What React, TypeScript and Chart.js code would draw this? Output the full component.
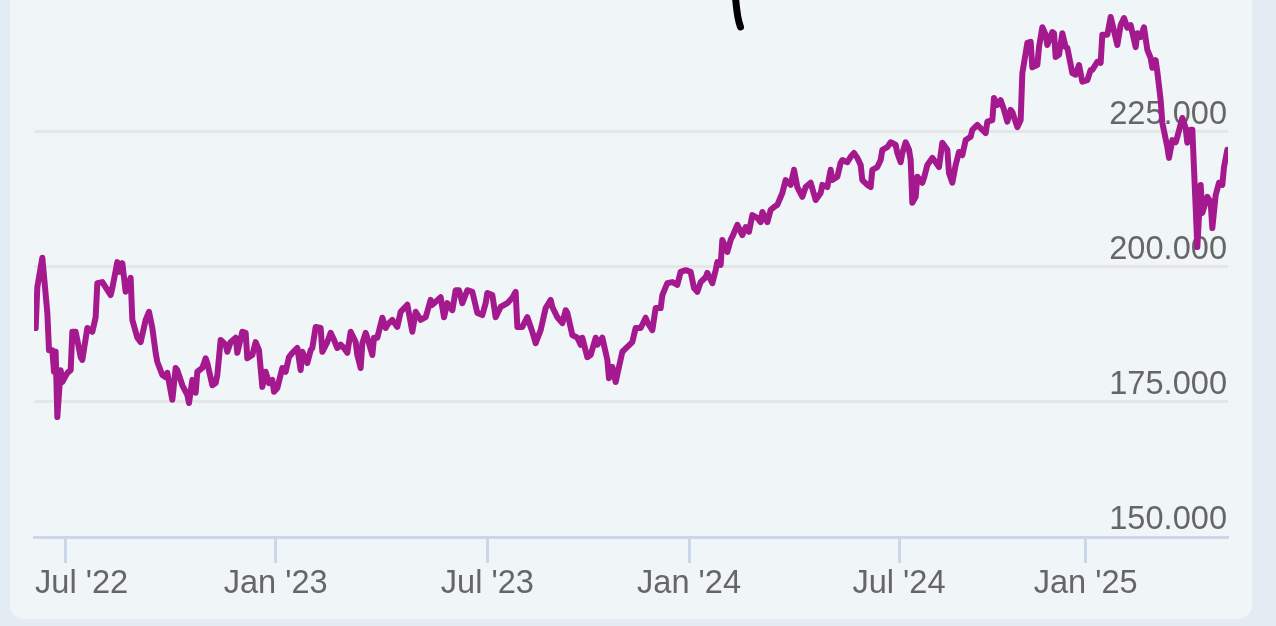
import React, { useEffect, useRef } from "react";
import { Chart, registerables } from "chart.js";

Chart.register(...registerables);

// trading-session index (ordinal x position) of each close
const sessionIndex = [
  1, 2, 5, 8, 9, 11, 12, 13, 14, 16,
  17, 20, 22, 23, 25, 28, 29, 32, 35, 37,
  38, 41, 46, 47, 50, 51, 53, 55, 58, 59,
  62, 64, 67, 69, 71, 73, 74, 77, 79, 80,
  83, 85, 86, 89, 92, 93, 95, 97, 98, 101,
  103, 104, 107, 109, 110, 112, 115, 116, 118, 121,
  122, 125, 127, 128, 131, 133, 135, 137, 139, 141,
  143, 144, 146, 149, 151, 153, 155, 158, 160, 161,
  164, 166, 167, 169, 172, 173, 176, 178, 180, 182,
  184, 186, 188, 190, 193, 194, 196, 197, 199, 200,
  203, 204, 206, 209, 211, 212, 215, 218, 220, 224,
  227, 229, 232, 235, 238, 239, 244, 246, 248, 251,
  253, 255, 257, 260, 263, 266, 269, 271, 272, 275,
  277, 280, 284, 287, 289, 290, 293, 296, 299, 301,
  304, 307, 310, 311, 314, 317, 319, 320, 323, 326,
  328, 329, 332, 334, 337, 338, 341, 344, 345, 347,
  349, 351, 353, 356, 359, 361, 364, 367, 368, 371,
  373, 376, 377, 380, 383, 386, 388, 391, 394, 396,
  398, 400, 403, 404, 407, 409, 410, 412, 413, 416,
  418, 419, 422, 425, 427, 429, 431, 434, 436, 437,
  440, 442, 444, 446, 449, 451, 454, 456, 458, 461,
  463, 466, 469, 472, 473, 476, 478, 479, 482, 484,
  485, 488, 490, 492, 494, 496, 497, 500, 502, 503,
  506, 508, 509, 512, 514, 517, 518, 520, 521, 523,
  525, 526, 527, 529, 530, 533, 534, 536, 539, 541,
  543, 545, 548, 549, 551, 553, 555, 557, 559, 562,
  563, 566, 569, 571, 572, 575, 576, 578, 580, 582,
  584, 586, 587, 590, 592, 593, 595, 596, 598, 599,
  602, 603, 605, 607, 608, 611, 612, 613, 615, 617,
  619, 620, 623, 625, 627, 629, 632, 634, 635, 638,
  640, 641, 644, 646, 649, 650, 652, 654, 656, 658,
  661, 662, 664, 666, 668, 670, 671, 673, 674, 676,
  677, 680, 681, 683, 685, 686, 689, 691, 692, 694,
  695, 697, 698, 700, 701, 704, 706, 707, 709, 711,
  713, 714, 716,
];

const closeValues = [
  188.7, 196.3, 201.7, 191.5, 184.6, 184.6, 180.6, 184.3, 172.2, 180.9,
  178.7, 180.4, 180.9, 188.0, 188.0, 183.3, 182.8, 188.7, 188.0, 190.7,
  197.0, 197.2, 194.8, 196.1, 200.9, 199.1, 200.7, 195.4, 198.0, 190.2,
  186.9, 186.1, 190.2, 191.7, 188.7, 184.1, 182.4, 180.0, 179.6, 180.4,
  175.4, 181.3, 180.9, 178.1, 176.3, 174.8, 179.1, 176.7, 180.6, 181.3,
  183.1, 182.2, 178.1, 178.5, 180.0, 186.5, 185.6, 184.3, 186.1, 186.9,
  184.1, 188.0, 187.8, 183.1, 183.7, 186.1, 184.6, 177.8, 180.6, 178.5,
  179.1, 176.9, 177.6, 181.3, 180.6, 183.3, 184.1, 185.0, 180.9, 184.3,
  182.2, 184.6, 185.0, 188.9, 188.7, 184.3, 186.1, 187.8, 186.5, 185.0,
  185.6, 185.0, 184.1, 188.0, 186.1, 183.7, 181.3, 185.9, 187.8, 186.9,
  183.7, 186.9, 186.9, 190.6, 188.7, 189.3, 190.2, 188.9, 191.7, 193.0,
  188.0, 191.7, 190.2, 190.7, 193.9, 193.0, 194.4, 190.7, 193.3, 192.0,
  195.7, 195.7, 193.3, 195.7, 195.4, 191.5, 191.1, 193.3, 195.2, 194.8,
  190.7, 192.6, 193.3, 194.3, 195.4, 188.9, 188.9, 190.7, 188.0, 185.9,
  188.3, 192.4, 193.9, 192.6, 190.7, 189.6, 192.0, 191.5, 187.4, 186.9,
  185.6, 186.9, 183.3, 183.7, 186.9, 185.6, 186.9, 182.8, 179.4, 181.5,
  178.7, 181.5, 184.3, 185.2, 186.1, 188.7, 188.7, 190.6, 189.8, 188.3,
  192.4, 192.4, 194.8, 197.0, 197.2, 196.7, 199.1, 199.4, 199.1, 196.1,
  195.4, 197.2, 198.1, 198.9, 197.0, 199.4, 200.9, 200.4, 205.0, 202.8,
  205.0, 205.6, 207.8, 205.9, 207.4, 206.5, 209.6, 209.1, 208.3, 210.2,
  208.3, 210.6, 211.1, 211.5, 213.7, 216.1, 215.2, 218.0, 214.8, 213.0,
  214.8, 215.6, 212.4, 213.7, 215.2, 214.8, 218.0, 216.1, 216.7, 219.3,
  219.8, 219.4, 220.4, 221.1, 220.2, 218.9, 216.1, 215.2, 214.8, 218.0,
  218.5, 219.8, 221.7, 222.2, 223.1, 222.6, 221.1, 219.4, 221.1, 223.1,
  221.7, 219.8, 211.9, 213.0, 216.7, 215.6, 216.5, 218.9, 220.2, 219.4,
  218.5, 223.0, 221.7, 217.4, 215.6, 218.9, 221.3, 220.7, 223.5, 224.1,
  225.4, 226.3, 225.4, 224.8, 226.9, 227.2, 231.3, 230.0, 230.9, 229.1,
  226.9, 229.1, 228.7, 225.9, 227.2, 235.9, 239.6, 241.5, 241.7, 237.0,
  237.4, 240.7, 244.4, 243.0, 241.1, 243.5, 243.3, 238.9, 239.3, 243.3,
  240.7, 240.6, 235.9, 235.6, 237.4, 234.3, 234.6, 236.5, 236.5, 238.0,
  237.8, 243.0, 243.0, 246.3, 242.4, 241.1, 244.8, 246.1, 244.3, 244.8,
  240.7, 243.3, 242.6, 244.4, 240.2, 238.7, 236.9, 238.3, 236.1, 230.9,
  226.7, 222.2, 220.2, 223.5, 223.1, 224.1, 227.6, 225.7, 223.0, 225.4,
  225.4, 211.1, 203.7, 215.2, 210.0, 213.0, 212.0, 207.2, 213.3, 215.6,
  215.2, 218.5, 221.7,
];

const xTickSessions = [19, 145, 272, 393, 519, 631];
const xTickLabels = ["Jul '22", "Jan '23", "Jul '23", "Jan '24", "Jul '24", "Jan '25"];
const yTickValues = [150, 175, 200, 225];
const yTickLabels = ["150.000", "175.000", "200.000", "225.000"];

const X_MIN = 0;
const X_MAX = 716.4;
const Y_MIN = 150;
const Y_MAX = 249.44;

const FONT_FAMILY = '"Liberation Sans", Arial, Helvetica, sans-serif';
const FONT_SIZE = 32.6;

export default function App() {
  const canvasRef = useRef<HTMLCanvasElement | null>(null);

  useEffect(() => {
    const canvas = canvasRef.current;
    if (!canvas) return;

    const xLabelPlugin = {
      id: "xLabelPlugin",
      afterDraw(chart: any) {
        const { ctx, chartArea, scales } = chart;
        const xs = scales.x;
        ctx.save();
        ctx.font = `${FONT_SIZE}px ${FONT_FAMILY}`;
        ctx.fillStyle = "#666666";
        ctx.textBaseline = "alphabetic";
        ctx.textAlign = "left";
        xTickSessions.forEach((s, i) => {
          const px = xs.getPixelForValue(s);
          const label = xTickLabels[i];
          const w = ctx.measureText(label).width;
          let left = px - w / 2;
          if (left < chartArea.left + 1) left = chartArea.left + 1;
          if (left + w > chartArea.right) left = chartArea.right - w;
          ctx.fillText(label, left, chartArea.bottom + 56);
        });
        ctx.restore();
      },
    };

    const chart = new Chart(canvas, {
      type: "line",
      data: {
        datasets: [
          {
            data: sessionIndex.map((x, i) => ({ x, y: closeValues[i] })),
            borderColor: "#a5198f",
            borderWidth: 6,
            pointRadius: 0,
            tension: 0,
            fill: false,
            borderJoinStyle: "round",
            borderCapStyle: "round",
          },
        ],
      },
      options: {
        animation: false,
        responsive: false,
        events: [],
        layout: { padding: { left: 34, top: 0, right: 0, bottom: 0 } },
        plugins: {
          legend: { display: false },
          tooltip: { enabled: false },
          title: { display: false },
        },
        scales: {
          x: {
            type: "linear",
            min: X_MIN,
            max: X_MAX,
            afterBuildTicks: (scale: any) => {
              scale.ticks = xTickSessions.map((v) => ({ value: v }));
            },
            afterFit: (scale: any) => {
              scale.height = 89;
              scale.paddingLeft = 0;
              scale.paddingRight = 0;
            },
            ticks: { display: false },
            grid: {
              drawOnChartArea: false,
              drawTicks: true,
              tickLength: 26,
              tickWidth: 3,
              tickColor: "#ccd6eb",
            },
            border: { display: true, color: "#ccd6eb", width: 3 },
          },
          y: {
            type: "linear",
            position: "right",
            min: Y_MIN,
            max: Y_MAX,
            afterBuildTicks: (scale: any) => {
              scale.ticks = yTickValues.map((v) => ({ value: v }));
            },
            afterFit: (scale: any) => {
              scale.width = 48;
              scale.paddingTop = 0;
              scale.paddingBottom = 0;
            },
            ticks: {
              mirror: true,
              padding: -1,
              labelOffset: -17,
              color: "#666666",
              font: { size: FONT_SIZE, family: FONT_FAMILY },
              callback: (value: any) => {
                const idx = yTickValues.indexOf(Number(value));
                return idx >= 0 ? yTickLabels[idx] : "";
              },
            },
            grid: {
              color: (ctx: any) =>
                ctx.tick && ctx.tick.value === Y_MIN ? "rgba(0,0,0,0)" : "#e6e6e6",
              lineWidth: 3,
              drawTicks: false,
            },
            border: { display: false },
          },
        },
      },
      plugins: [xLabelPlugin],
    } as any);

    return () => {
      chart.destroy();
    };
  }, []);

  return (
    <div
      style={{
        position: "fixed",
        left: 0,
        top: 0,
        width: 1276,
        height: 626,
        background: "#e4ecf3",
        overflow: "hidden",
      }}
    >
      <div
        style={{
          position: "absolute",
          left: 10,
          top: -30,
          width: 1242,
          height: 649,
          background: "#f0f5f8",
          borderRadius: 14,
        }}
      />
      <svg
        width={1276}
        height={626}
        style={{ position: "absolute", left: 0, top: 0 }}
      >
        <path
          d="M 734.5 -20 C 735.5 5, 737 18, 740.5 27"
          stroke="#000000"
          strokeWidth={7}
          strokeLinecap="round"
          fill="none"
        />
      </svg>
      <canvas
        ref={canvasRef}
        width={1276}
        height={626}
        style={{ position: "absolute", left: 0, top: 0, width: 1276, height: 626 }}
      />
    </div>
  );
}
